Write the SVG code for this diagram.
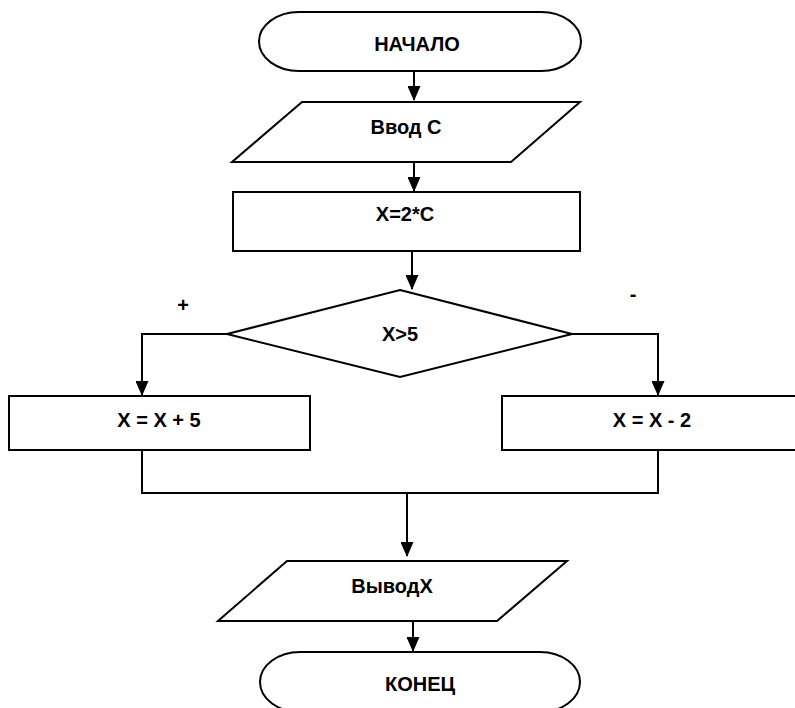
<svg xmlns="http://www.w3.org/2000/svg" width="795" height="708" viewBox="0 0 795 708">
<style>
.shape{fill:#fff;stroke:#000;stroke-width:2}
.line{fill:none;stroke:#000;stroke-width:2}
.arrow{fill:none;stroke:#000;stroke-width:2;marker-end:url(#ah)}
text{font-family:"Liberation Sans",Arial,sans-serif;font-weight:bold;font-size:20px;fill:#000;text-anchor:middle}
.sign{font-size:20px}
</style>
<defs>
<marker id="ah" markerUnits="userSpaceOnUse" markerWidth="15" markerHeight="13" viewBox="0 0 15 13" refX="14" refY="6.5" orient="auto">
<path d="M0,0 L15,6.5 L0,13 Z" fill="#000"/>
</marker>
</defs>
<rect width="795" height="708" fill="#fff"/>
<g id="connectors">
<line class="arrow" x1="414" y1="71" x2="414" y2="100"/>
<line class="arrow" x1="414" y1="162" x2="414" y2="191"/>
<line class="arrow" x1="412" y1="251" x2="412" y2="289"/>
<polyline class="arrow" points="227,334 142,334 142,395"/>
<polyline class="arrow" points="572,334 658,334 658,395"/>
<polyline class="line" points="142,450 142,493 658,493 658,450"/>
<line class="arrow" x1="407" y1="493" x2="407" y2="556"/>
<line class="arrow" x1="413" y1="621" x2="413" y2="651"/>
</g>
<g id="start">
<rect class="shape" x="259" y="12" width="322" height="59" rx="40" ry="29.5"/>
<text x="417" y="51">НАЧАЛО</text>
</g>
<g id="input">
<polygon class="shape" points="302,102 580,102 511,162 232,162"/>
<text x="406" y="134">Ввод С</text>
</g>
<g id="calc">
<rect class="shape" x="233" y="192" width="347" height="59"/>
<text x="405" y="221">X=2*C</text>
</g>
<g id="decision">
<polygon class="shape" points="400,290 572,334 400,377 227,334"/>
<text x="400" y="341">X&gt;5</text>
</g>
<g id="label-plus"><text class="sign" x="183" y="312">+</text></g>
<g id="label-minus"><text class="sign" x="633" y="301">-</text></g>
<g id="plus5">
<rect class="shape" x="9" y="396" width="301" height="54"/>
<text x="159" y="427">X = X + 5</text>
</g>
<g id="minus2">
<rect class="shape" x="502" y="396" width="300" height="54"/>
<text x="652" y="427">X = X - 2</text>
</g>
<g id="output">
<polygon class="shape" points="287,561 567,561 497,621 218,621"/>
<text x="392" y="593">ВыводX</text>
</g>
<g id="end">
<rect class="shape" x="260" y="652" width="320" height="60" rx="40" ry="30"/>
<text x="420" y="691">КОНЕЦ</text>
</g>
</svg>
